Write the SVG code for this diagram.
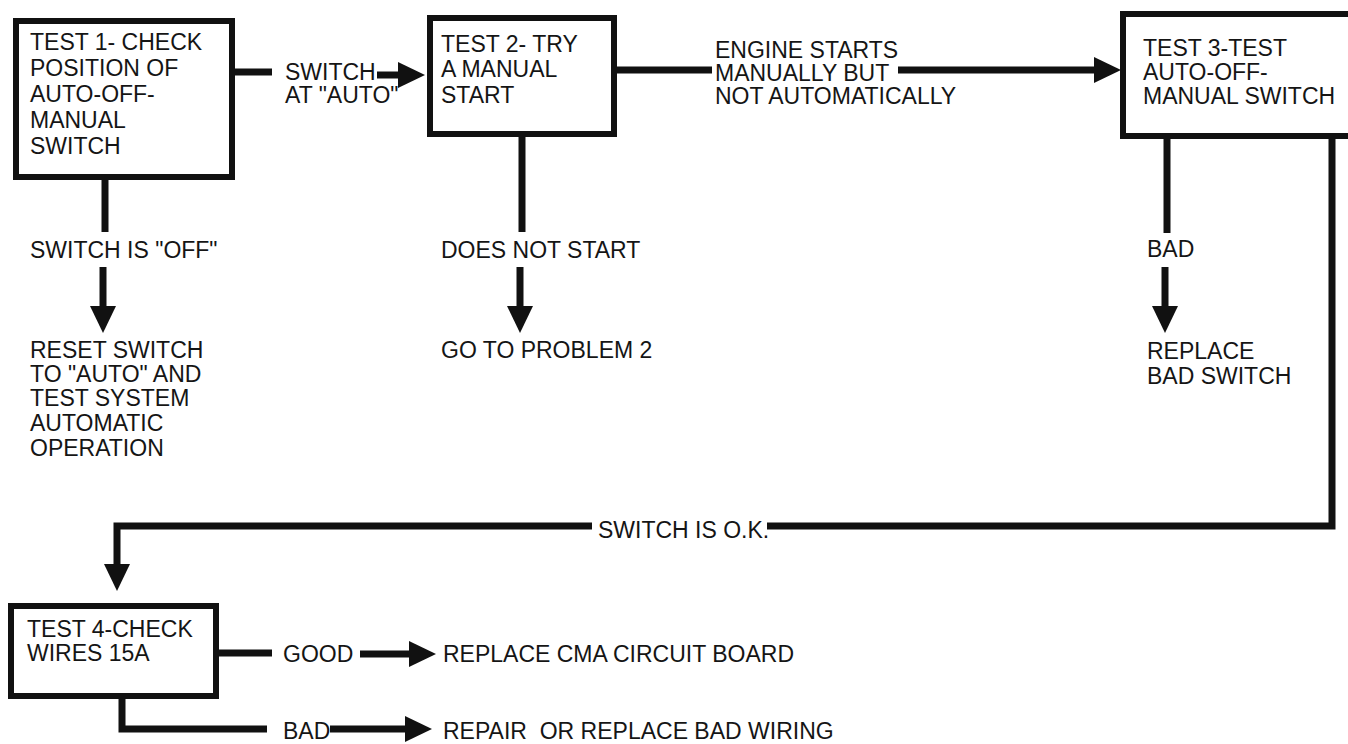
<svg xmlns="http://www.w3.org/2000/svg" width="1348" height="744" viewBox="0 0 1348 744">
<style>
  text { font-family: "Liberation Sans", Arial, sans-serif; font-size: 23px; fill: #151515; white-space: pre; }
  .box { fill: #fff; stroke: #111; stroke-width: 6; }
  .ln { fill: none; stroke: #111; stroke-width: 7; }
</style>
<defs>
  <marker id="ah" viewBox="0 0 27 26" refX="3" refY="13" markerWidth="27" markerHeight="26" orient="auto" markerUnits="userSpaceOnUse">
    <path d="M0,0 L27,13 L0,26 Z" fill="#111"/>
  </marker>
</defs>
<rect width="1348" height="744" fill="#fff"/>
<g id="connectors">
  <path class="ln" d="M235,72 H272"/>
  <path class="ln" d="M377,75 H401" marker-end="url(#ah)"/>
  <path class="ln" d="M617,70 H712"/>
  <path class="ln" d="M898,70 H1097" marker-end="url(#ah)"/>
  <path class="ln" d="M105,180 V232"/>
  <path class="ln" d="M103,267 V309" marker-end="url(#ah)"/>
  <path class="ln" d="M522,137 V232"/>
  <path class="ln" d="M520,267 V309" marker-end="url(#ah)"/>
  <path class="ln" d="M1167,139 V233"/>
  <path class="ln" d="M1165,267 V309" marker-end="url(#ah)"/>
  <path class="ln" d="M1332,139 V526 H767"/>
  <path class="ln" d="M592,526 H117 V567" marker-end="url(#ah)"/>
  <path class="ln" d="M219,653 H272"/>
  <path class="ln" d="M360,654 H412" marker-end="url(#ah)"/>
  <path class="ln" d="M122,699 V729 H267"/>
  <path class="ln" d="M330,729 H408" marker-end="url(#ah)"/>
</g>
<g id="test1">
  <rect class="box" x="16" y="21" width="216" height="156"/>
  <text x="30" y="50">TEST 1- CHECK</text>
  <text x="30" y="76">POSITION OF</text>
  <text x="30" y="102">AUTO-OFF-</text>
  <text x="30" y="128">MANUAL</text>
  <text x="30" y="154">SWITCH</text>
</g>
<g id="test2">
  <rect class="box" x="430" y="18" width="184" height="116"/>
  <text x="441" y="52">TEST 2- TRY</text>
  <text x="441" y="77">A MANUAL</text>
  <text x="441" y="103">START</text>
</g>
<g id="test3">
  <rect class="box" x="1123" y="14" width="240" height="122"/>
  <text x="1143" y="56">TEST 3-TEST</text>
  <text x="1143" y="80">AUTO-OFF-</text>
  <text x="1143" y="104">MANUAL SWITCH</text>
</g>
<g id="test4">
  <rect class="box" x="11" y="606" width="205" height="90"/>
  <text x="27" y="637">TEST 4-CHECK</text>
  <text x="27" y="661">WIRES 15A</text>
</g>
<g id="labels">
  <text x="285" y="80">SWITCH</text>
  <text x="285" y="103">AT "AUTO"</text>
  <text x="715" y="58">ENGINE STARTS</text>
  <text x="715" y="81">MANUALLY BUT</text>
  <text x="715" y="104">NOT AUTOMATICALLY</text>
  <text x="30" y="258">SWITCH IS "OFF"</text>
  <text x="30" y="358">RESET SWITCH</text>
  <text x="30" y="382">TO "AUTO" AND</text>
  <text x="30" y="406">TEST SYSTEM</text>
  <text x="30" y="431">AUTOMATIC</text>
  <text x="30" y="456">OPERATION</text>
  <text x="441" y="258">DOES NOT START</text>
  <text x="441" y="358">GO TO PROBLEM 2</text>
  <text x="1147" y="257">BAD</text>
  <text x="1147" y="359">REPLACE</text>
  <text x="1147" y="384">BAD SWITCH</text>
  <text x="598" y="538">SWITCH IS O.K.</text>
  <text x="283" y="662">GOOD</text>
  <text x="443" y="662">REPLACE CMA CIRCUIT BOARD</text>
  <text x="283" y="739">BAD</text>
  <text x="443" y="739" xml:space="preserve">REPAIR  OR REPLACE BAD WIRING</text>
</g>
</svg>
